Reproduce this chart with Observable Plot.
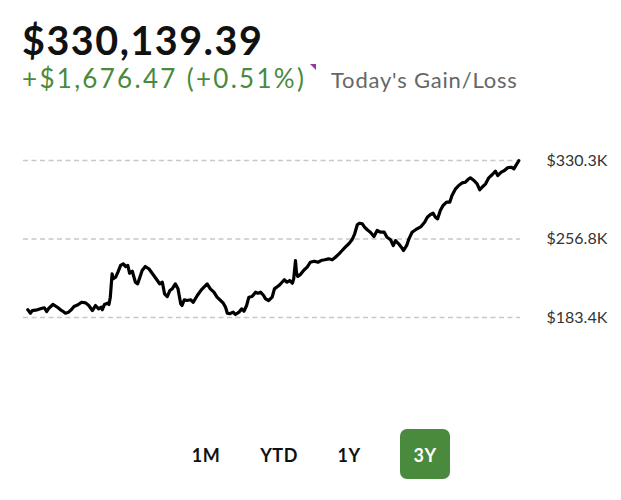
<!DOCTYPE html>
<html>
<head>
<meta charset="utf-8">
<script src="https://cdn.jsdelivr.net/npm/d3@7"></script>
<script src="https://cdn.jsdelivr.net/npm/@observablehq/plot@0.6"></script>
<style>
  html, body { margin: 0; padding: 0; background: #fff; }
  body { width: 621px; height: 500px; position: relative; overflow: hidden; font-family: Lato, "Open Sans", sans-serif; }
  .abs { position: absolute; white-space: nowrap; line-height: 1; }
  #total { left: 22px; top: 20px; font-size: 39.5px; font-weight: 700; color: #111; letter-spacing: 1.5px; }
  #gain { left: 22px; top: 65px; font-size: 26px; color: #4a8a3c; letter-spacing: 2.3px; }
  #tri { left: 310px; top: 63.5px; width: 0; height: 0; border-top: 6.5px solid #93379e; border-left: 6.5px solid transparent; }
  #gainLabel { left: 331px; top: 69px; font-size: 22px; color: #666; letter-spacing: 0.8px; }
  #chart { position: absolute; left: 0; top: 130px; }
  .btn { position: absolute; top: 446px; font-size: 18px; font-weight: 700; color: #111; text-align: center; width: 60px; line-height: 1; letter-spacing: 0.5px; }
  #sel { position: absolute; left: 400px; top: 429px; width: 49.5px; height: 50px; border-radius: 7px; background: #4a8a3c; }
</style>
</head>
<body>
<div id="total" class="abs"></div>
<div id="gain" class="abs"></div>
<div id="tri" class="abs"></div>
<div id="gainLabel" class="abs"></div>
<div id="chart"></div>
<div id="sel"></div>
<div id="buttons"></div>
<script>
// ---- data (values in $K, day offset over the 3-year window) ----
const titleText = "$330,139.39";
const gainText = "+$1,676.47 (+0.51%)";
const gainLabelText = "Today's Gain/Loss";
const ranges = ["1M", "YTD", "1Y", "3Y"];
const selectedRange = "3Y";

const tickValues = [183.4, 256.85, 330.3];
const tickLabels = ["$183.4K", "$256.8K", "$330.3K"];

const days = [0,6,10,21,32,37,42,47,56,66,73,79,84,91,97,103,112,120,129,136,144,151,158,164,166,171,178,181,184,188,190,196,201,207,213,218,223,227,233,240,245,250,255,262,270,281,289,294,300,305,311,317,322,329,335,341,344,349,355,363,369,378,387,400,407,415,422,430,436,441,445,450,458,463,471,477,482,488,493,500,508,513,519,526,530,537,545,550,560,567,572,578,584,590,593,597,599,602,608,615,623,630,639,647,654,662,671,679,686,694,701,708,716,723,729,735,740,746,751,757,764,772,779,787,795,801,809,815,820,827,833,838,845,850,857,868,877,885,891,898,904,909,914,920,926,934,941,946,954,961,969,976,981,987,995,1002,1008,1013,1021,1028,1036,1043,1048,1056,1063,1070,1078,1084,1090,1095];
const values = [190.6,187.4,189.9,190.6,192.1,192.5,189.0,192.1,195.6,193.0,190.6,189.0,187.4,188.4,190.6,193.7,195.3,197.7,197.1,194.6,189.9,194.6,191.5,193.0,190.6,195.6,196.8,195.6,202.4,224.3,219.6,221.1,225.8,232.1,233.6,231.1,232.1,224.8,226.7,216.4,214.9,221.1,227.4,231.1,229.0,222.7,218.0,214.9,216.4,205.6,203.0,208.7,210.2,214.9,210.2,196.2,194.6,200.0,199.3,200.0,197.7,204.0,209.3,214.9,210.2,207.1,202.4,199.3,196.8,193.0,187.4,186.9,188.4,186.2,188.4,191.5,189.3,194.6,202.4,203.0,207.1,206.1,207.1,204.0,200.9,199.3,202.4,210.2,213.3,216.4,218.7,216.4,218.0,215.5,219.6,236.7,225.8,221.8,223.6,227.4,230.5,235.1,236.1,235.1,236.7,237.4,238.3,237.4,239.8,243.0,246.1,249.2,252.4,256.1,261.7,270.4,271.6,271.1,267.9,265.5,263.2,259.2,264.8,263.2,263.2,258.5,256.1,250.8,255.4,252.4,249.2,246.1,250.8,257.0,263.2,266.4,268.5,272.6,277.2,279.8,281.0,277.2,275.7,283.5,288.2,291.3,291.3,297.6,303.8,306.9,309.4,310.0,312.2,314.1,311.6,308.5,302.9,305.3,308.5,314.1,317.2,320.3,316.3,319.4,320.9,323.5,324.0,322.5,326.6,330.1];

const data = days.map((d, i) => ({day: d, value: values[i]}));

document.getElementById("total").textContent = titleText;
document.getElementById("gain").textContent = gainText;
document.getElementById("gainLabel").textContent = gainLabelText;

const btnCenters = [206, 279, 349, 425];
const bwrap = document.getElementById("buttons");
ranges.forEach((r, i) => {
  const el = document.createElement("div");
  el.className = "btn";
  el.textContent = r;
  el.style.left = (btnCenters[i] - 30) + "px";
  if (r === selectedRange) el.style.color = "#fff";
  bwrap.appendChild(el);
});

const chart = Plot.plot({
  width: 621,
  height: 220,
  marginTop: 30,
  marginBottom: 33,
  marginLeft: 23,
  marginRight: 101,
  style: {fontFamily: "Lato, sans-serif", fontSize: "16px", color: "#333", background: "transparent"},
  x: {domain: [0, 1095], insetLeft: 4.3, insetRight: 1.7, axis: null},
  y: {
    domain: [183.4, 330.3],
    axis: "right",
    ticks: tickValues,
    tickSize: 0,
    tickPadding: 26,
    tickFormat: d => tickLabels[tickValues.indexOf(d)],
    label: null
  },
  marks: [
    Plot.ruleY(tickValues, {stroke: "#c8c8c8", strokeWidth: 1.5, strokeDasharray: "5,3.5"}),
    Plot.line(data, {x: "day", y: "value", stroke: "#000", strokeWidth: 3.2, strokeLinejoin: "round", strokeLinecap: "round"})
  ]
});
document.getElementById("chart").appendChild(chart);
</script>
</body>
</html>
